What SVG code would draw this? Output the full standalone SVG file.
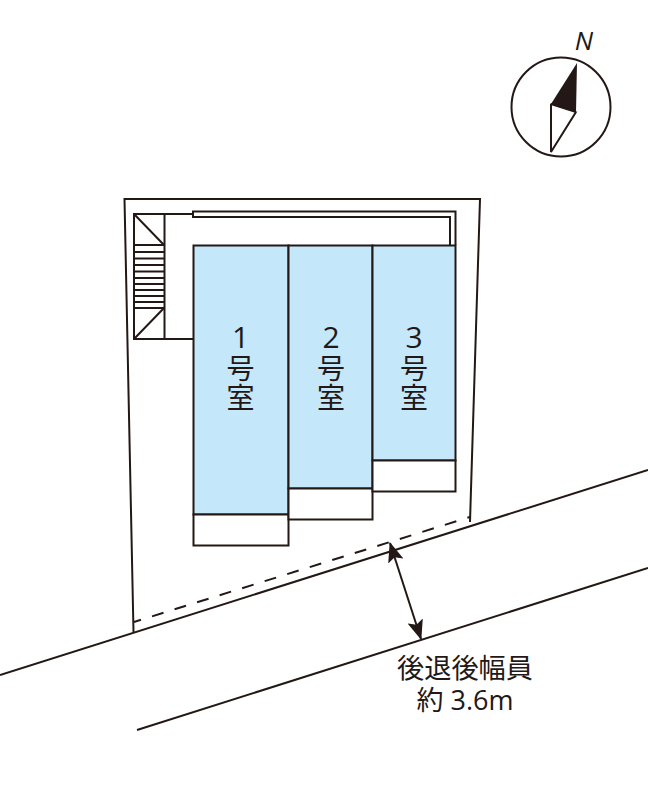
<svg xmlns="http://www.w3.org/2000/svg" width="648" height="790" viewBox="0 0 648 790">
<style>
.l{fill:none;stroke:#231815;stroke-width:2}
.room{fill:#c4e7f9;stroke:#231815;stroke-width:2}
.bal{fill:#fff;stroke:#231815;stroke-width:2}
.t{font-family:"Open Sans","Noto Sans CJK JP",sans-serif;fill:#231815;text-anchor:middle}
.d{font-size:30px}
.j{font-family:"Noto Sans CJK JP",sans-serif;font-size:28px}
</style>
<defs>
<marker id="ah" viewBox="0 0 20 16" refX="19" refY="8" markerWidth="20" markerHeight="16" markerUnits="userSpaceOnUse" orient="auto-start-reverse"><path d="M0 0 L20 8 L0 16 L4 8Z" fill="#231815"/></marker>
</defs>
<rect width="648" height="790" fill="#fff"/>
<g id="site"><path class="l" d="M133.500 632 L124.500 199 H480 L470 522"/></g>
<g id="stairs">
<rect class="l" x="134" y="214" width="30.500" height="125"/>
<path class="l" d="M134 214 L164 245 M134 339 L164 308 M134 245H164M134 252H164M134 258.500H164M134 265H164M134 271.500H164M134 278H164M134 284H164M134 290H164M134 296H164M134 302H164M134 308H164 M164 214H193 M164 339H193"/>
</g>
<g id="corridor"><path class="l" d="M193 217V211.500H455.500V245 M192 217H450V245"/></g>
<g id="room1"><rect class="room" x="193.500" y="245.500" width="95" height="269"/><rect class="bal" x="193.500" y="514.500" width="95" height="31"/><text class="t"><tspan class="d" x="240.500" y="348">1</tspan><tspan class="j" x="240.500" y="379">号</tspan><tspan class="j" x="240.500" y="408">室</tspan></text></g>
<g id="room2"><rect class="room" x="288.500" y="245.500" width="84" height="243"/><rect class="bal" x="288.500" y="488.500" width="84" height="31"/><text class="t"><tspan class="d" x="331" y="348">2</tspan><tspan class="j" x="331" y="379">号</tspan><tspan class="j" x="331" y="408">室</tspan></text></g>
<g id="room3"><rect class="room" x="372.500" y="245.500" width="83" height="215"/><rect class="bal" x="372.500" y="460.500" width="83" height="31"/><text class="t"><tspan class="d" x="414" y="348">3</tspan><tspan class="j" x="414" y="379">号</tspan><tspan class="j" x="414" y="408">室</tspan></text></g>
<g id="compass"><circle class="l" cx="561" cy="107" r="49.500"/><path d="M577 63 L551 104 L576 112Z" fill="#231815"/><path class="l" stroke-linejoin="bevel" d="M551 104 L576 112 L551 152Z"/><text x="584" y="50" font-family="Open Sans,sans-serif" font-style="italic" font-size="26" fill="#231815" text-anchor="middle">N</text></g>
<g id="connectors">
<path class="l" d="M0 675 L648 470 M137 730 L648 568"/>
<path class="l" d="M134 622 L470 517" stroke-dasharray="12 11.600" stroke-dashoffset="4.700"/>
<path class="l" d="M390 543 L421 639" marker-start="url(#ah)" marker-end="url(#ah)"/>
</g>
<g id="label"><text class="t" x="465" y="678" font-size="27.200" style="font-family:'Noto Sans CJK JP',sans-serif">後退後幅員</text><text class="t" x="465" y="710" font-size="27">約 3.6m</text></g>
</svg>
